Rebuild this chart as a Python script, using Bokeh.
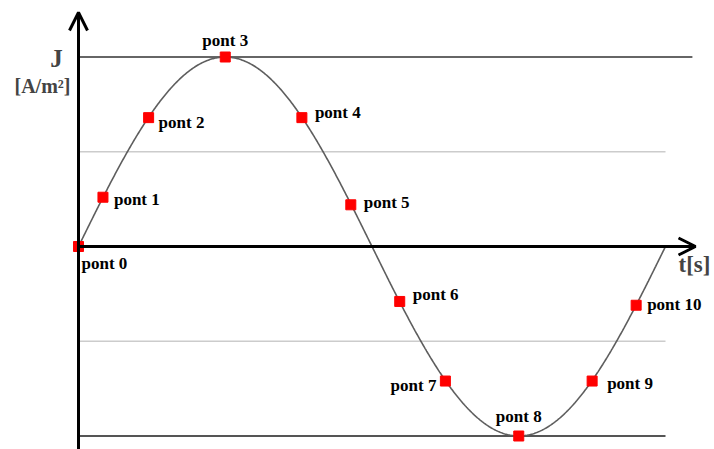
import numpy as np
from bokeh.plotting import figure
from bokeh.models import Range1d, Arrow, OpenHead, ColumnDataSource, Label
from bokeh.core.properties import value
from bokeh.embed import file_html
from bokeh.resources import INLINE

# Phase of each sampled point (degrees over one period) and current density J (normalised)
names = ["pont 0", "pont 1", "pont 2", "pont 3", "pont 4", "pont 5",
         "pont 6", "pont 7", "pont 8", "pont 9", "pont 10"]
phase = [0, 15, 43, 90, 137, 167, 197, 225, 270, 315, 342]
J_vals = [0.0, 0.26, 0.68, 1.0, 0.68, 0.22, -0.29, -0.71, -1.0, -0.71, -0.31]

# Label placement (screen px offsets and alignment)
lab_dx = [3, 11, 10, 0, 13, 13, 13, -9, 0, 15, 11]
lab_dy = [17, 2, 5, -17, -5, -2, -7, 4, -20, 2, -1]
lab_align = ["left", "left", "left", "center", "left", "left", "left",
             "right", "center", "left", "left"]

PX_PER_DEG = 587 / 360
PX_PER_J = 189.5

W, H = 714, 449
x0, y0 = 78, 246
p = figure(width=W, height=H, output_backend="svg", toolbar_location=None,
           x_range=Range1d(-x0 / PX_PER_DEG, (W - x0) / PX_PER_DEG),
           y_range=Range1d(-(H - y0) / PX_PER_J, y0 / PX_PER_J),
           min_border=0, outline_line_color=None)
p.axis.visible = False
p.grid.visible = False
p.background_fill_color = "white"

serif = value("Liberation Serif")

# reference levels
p.line([0, 376.5], [1, 1], line_color="#333333", line_width=1.6)
p.line([0, 360], [-1, -1], line_color="#555555", line_width=1.8)
for lvl in (0.5, -0.5):
    p.line([0, 360], [lvl, lvl], line_color="#cccccc", line_width=1.5)

# the sine wave J(t)
t = np.linspace(0, 360, 721)
p.line(t, np.sin(np.radians(t)), line_color="#5e5e5e", line_width=1.6)

# axes with arrow heads
y_top = (y0 - 12) / PX_PER_J
p.add_layout(Arrow(x_start=0, y_start=-(H - y0) / PX_PER_J - 0.05, x_end=0, y_end=y_top,
                   line_width=3, line_color="black",
                   end=OpenHead(size=18, line_width=3, line_color="black")))
p.add_layout(Arrow(x_start=0, y_start=0, x_end=(695 - x0) / PX_PER_DEG, y_end=0,
                   line_width=3, line_color="black",
                   end=OpenHead(size=17, line_width=3, line_color="black")))

src = ColumnDataSource(dict(x=phase, y=J_vals, name=names, dx=lab_dx, dy=lab_dy, al=lab_align))
p.scatter("x", "y", source=src, marker="square", size=10, fill_color="#ff0000",
          line_color="#ff0000")

p.text("x", "y", text="name", source=src, x_offset="dx", y_offset="dy",
       text_align="al", text_baseline="middle", text_font=serif,
       text_font_style="bold", text_font_size="17px", text_color="black")

# axis titles
p.add_layout(Label(x=-22 / PX_PER_DEG, y=(y0 - 58) / PX_PER_J, text="J",
                   text_font="Liberation Serif", text_font_style="bold",
                   text_font_size="25px", text_align="center", text_baseline="middle"))
p.add_layout(Label(x=-36 / PX_PER_DEG, y=(y0 - 85) / PX_PER_J, text="[A/m²]",
                   text_font="Liberation Serif", text_font_style="bold",
                   text_font_size="20px", text_align="center", text_baseline="middle"))
p.add_layout(Label(x=(678 - x0) / PX_PER_DEG, y=(y0 - 264) / PX_PER_J, text="t[s]",
                   text_font="Liberation Serif", text_font_style="bold",
                   text_font_size="23px", text_align="left", text_baseline="middle"))

open("out.html", "w").write(file_html(p, INLINE))
